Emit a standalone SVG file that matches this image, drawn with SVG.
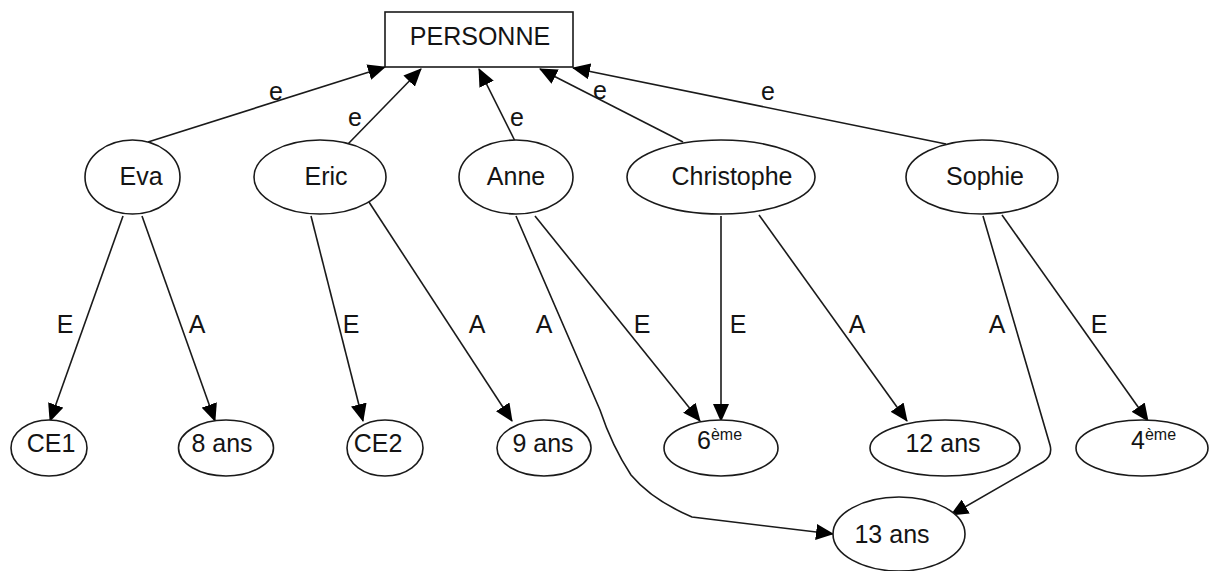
<svg xmlns="http://www.w3.org/2000/svg" width="1211" height="571" viewBox="0 0 1211 571">
  <style>
    .shape { fill: #ffffff; stroke: #1a1a1a; stroke-width: 1.6; }
    .edge { fill: none; stroke: #1a1a1a; stroke-width: 1.6; marker-end: url(#arrow); }
    text { font-family: "Liberation Sans", Arial, sans-serif; font-size: 25px; fill: #141414; }
    .lbl { text-anchor: middle; }
    .sup { font-size: 16px; }
  </style>
  <defs>
    <marker id="arrow" viewBox="0 0 18 16" refX="17" refY="8" markerWidth="18" markerHeight="16" markerUnits="userSpaceOnUse" orient="auto">
      <path d="M0,0 L18,8 L0,16 z" fill="#000000"/>
    </marker>
  </defs>

  <rect width="1211" height="571" fill="#ffffff"/>

  <!-- connectors -->
  <g id="connectors">
    <line class="edge" x1="148" y1="142" x2="385" y2="67"/>
    <line class="edge" x1="348" y1="144" x2="421" y2="69"/>
    <line class="edge" x1="516" y1="143" x2="479" y2="69"/>
    <line class="edge" x1="683" y1="142" x2="540" y2="69"/>
    <line class="edge" x1="946" y1="144" x2="573" y2="68"/>

    <line class="edge" x1="123" y1="216" x2="50" y2="421"/>
    <line class="edge" x1="142" y1="216" x2="215" y2="421"/>
    <line class="edge" x1="311" y1="216" x2="363" y2="421"/>
    <line class="edge" x1="367" y1="199" x2="512" y2="421"/>
    <line class="edge" x1="535" y1="216" x2="700" y2="421"/>
    <line class="edge" x1="721" y1="216" x2="721" y2="421"/>
    <line class="edge" x1="759" y1="215" x2="907" y2="421"/>
    <line class="edge" x1="1002" y1="215" x2="1148" y2="421"/>
    <path class="edge" d="M516,216 L600,410 Q612,446 631,475 Q652,500 692,517 L833,534"/>
    <path class="edge" d="M983,216 L1050,445 Q1053,456 1043,462 L951,515"/>

    <text class="lbl" x="276" y="100">e</text>
    <text class="lbl" x="355" y="126">e</text>
    <text class="lbl" x="517" y="126">e</text>
    <text class="lbl" x="600" y="99">e</text>
    <text class="lbl" x="768" y="100">e</text>

    <text class="lbl" x="65" y="333">E</text>
    <text class="lbl" x="197" y="333">A</text>
    <text class="lbl" x="351" y="333">E</text>
    <text class="lbl" x="477" y="333">A</text>
    <text class="lbl" x="544" y="333">A</text>
    <text class="lbl" x="642" y="333">E</text>
    <text class="lbl" x="738" y="333">E</text>
    <text class="lbl" x="857" y="333">A</text>
    <text class="lbl" x="997" y="333">A</text>
    <text class="lbl" x="1099" y="333">E</text>
  </g>

  <g id="personne">
    <rect class="shape" x="385" y="12" width="188" height="55"/>
    <text class="lbl" x="480" y="45">PERSONNE</text>
  </g>

  <g id="eva">
    <ellipse class="shape" cx="132.5" cy="177" rx="47.5" ry="37"/>
    <text class="lbl" x="141" y="185">Eva</text>
  </g>
  <g id="eric">
    <ellipse class="shape" cx="320" cy="177" rx="66" ry="37"/>
    <text class="lbl" x="326" y="185">Eric</text>
  </g>
  <g id="anne">
    <ellipse class="shape" cx="516" cy="177" rx="57" ry="37"/>
    <text class="lbl" x="516" y="185">Anne</text>
  </g>
  <g id="christophe">
    <ellipse class="shape" cx="721" cy="177" rx="94" ry="37"/>
    <text class="lbl" x="732" y="185">Christophe</text>
  </g>
  <g id="sophie">
    <ellipse class="shape" cx="982" cy="177" rx="76" ry="37"/>
    <text class="lbl" x="985" y="185">Sophie</text>
  </g>

  <g id="ce1">
    <ellipse class="shape" cx="49" cy="448" rx="38" ry="28"/>
    <text class="lbl" x="51" y="452">CE1</text>
  </g>
  <g id="ans8">
    <ellipse class="shape" cx="226" cy="448" rx="47.5" ry="28"/>
    <text class="lbl" x="222" y="452">8 ans</text>
  </g>
  <g id="ce2">
    <ellipse class="shape" cx="385" cy="448" rx="38" ry="28"/>
    <text class="lbl" x="378" y="452">CE2</text>
  </g>
  <g id="ans9">
    <ellipse class="shape" cx="544" cy="448" rx="47" ry="28"/>
    <text class="lbl" x="543" y="452">9 ans</text>
  </g>
  <g id="sixieme">
    <ellipse class="shape" cx="721" cy="448" rx="57" ry="28"/>
    <text x="697" y="449">6<tspan class="sup" dy="-9">ème</tspan></text>
  </g>
  <g id="ans12">
    <ellipse class="shape" cx="945" cy="448" rx="75" ry="28"/>
    <text class="lbl" x="943" y="452">12 ans</text>
  </g>
  <g id="quatrieme">
    <ellipse class="shape" cx="1142" cy="448" rx="66" ry="28"/>
    <text x="1131" y="449">4<tspan class="sup" dy="-9">ème</tspan></text>
  </g>
  <g id="ans13">
    <ellipse class="shape" cx="899" cy="534" rx="66" ry="37"/>
    <text class="lbl" x="892" y="543">13 ans</text>
  </g>
</svg>
